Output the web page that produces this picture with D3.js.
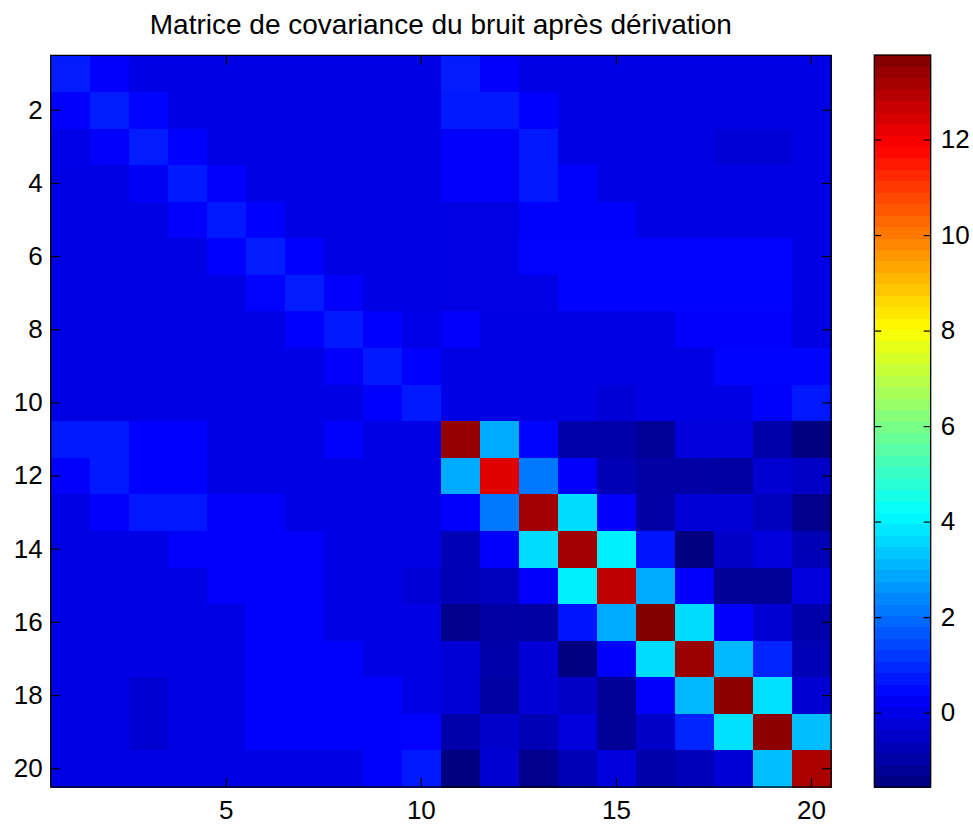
<!DOCTYPE html>
<html>
<head>
<meta charset="utf-8">
<script src="https://cdn.jsdelivr.net/npm/d3@7"></script>
<style>
  html, body { margin: 0; padding: 0; background: #fff; }
  svg text { font-family: "Liberation Sans", Arial, sans-serif; fill: #000; }
</style>
</head>
<body>
<div id="chart"></div>
<script>
// covariance matrix, 20x20 (row i, column j)
const indices = d3.range(1, 21);
const B = -0.04; // background level
const covariance = [
  [0.78, 0.3, B, B, B, B, B, B, B, B, 0.78, 0.3, B, B, B, B, B, B, B, B],
  [0.32, 0.8, 0.4, B, B, B, B, B, B, B, 0.75, 0.75, 0.36, B, B, B, B, B, B, B],
  [-0.02, 0.3, 0.78, 0.34, B, B, B, B, B, B, 0.3, 0.3, 0.7, B, B, B, B, -0.25, -0.25, B],
  [B, B, 0.22, 0.73, 0.3, B, B, B, B, B, 0.3, 0.3, 0.7, 0.33, B, B, B, B, B, B],
  [B, B, B, 0.3, 0.73, 0.34, B, B, B, B, -0.06, -0.06, 0.33, 0.33, 0.33, B, B, B, B, B],
  [B, B, B, B, 0.34, 0.78, 0.34, B, B, B, -0.06, -0.06, 0.38, 0.38, 0.38, 0.38, 0.38, 0.38, 0.38, B],
  [B, B, B, B, B, 0.38, 0.78, 0.3, B, B, -0.06, -0.06, -0.06, 0.4, 0.4, 0.4, 0.4, 0.4, 0.4, B],
  [B, B, B, B, B, B, 0.34, 0.73, 0.34, -0.02, 0.3, B, B, B, B, B, 0.3, 0.3, 0.3, B],
  [B, B, B, B, B, B, B, 0.3, 0.73, 0.34, B, B, B, B, B, B, B, 0.4, 0.4, 0.4],
  [B, B, B, B, B, B, B, B, 0.34, 0.73, B, B, B, B, -0.25, B, B, B, 0.33, 0.7],
  [0.73, 0.73, 0.36, 0.36, B, B, B, 0.33, B, B, 13.43, 2.92, 0.4, -0.92, -0.92, -1.22, -0.17, -0.17, -0.92, -1.55],
  [0.3, 0.73, 0.36, 0.36, B, B, B, B, B, B, 2.92, 12.3, 2.16, 0.3, -0.77, -0.99, -0.99, -1.07, -0.32, -0.47],
  [B, 0.3, 0.7, 0.7, 0.3, 0.3, B, B, B, B, 0.3, 2.16, 13.28, 3.66, 0.3, -0.99, -0.25, -0.25, -0.62, -1.37],
  [B, B, B, 0.3, 0.3, 0.3, 0.3, B, B, B, -0.77, 0.3, 3.66, 13.28, 3.96, 0.67, -1.55, -0.47, -0.17, -0.77],
  [B, B, B, B, 0.3, 0.3, 0.3, B, B, -0.25, -0.77, -0.62, 0.3, 3.96, 12.84, 2.92, 0.3, -1.22, -1.22, -0.17],
  [B, B, B, B, B, 0.33, 0.33, B, B, B, -1.37, -0.99, -1.07, 0.67, 2.92, 13.77, 3.66, 0.3, -0.32, -0.92],
  [B, B, B, B, B, 0.33, 0.33, 0.33, B, B, -0.25, -0.92, -0.25, -1.55, 0.3, 3.66, 13.35, 3.13, 0.9, -0.77],
  [B, B, -0.3, B, B, 0.33, 0.33, 0.33, 0.33, B, -0.25, -1.07, -0.25, -0.47, -1.22, 0.3, 3.13, 13.58, 3.73, -0.32],
  [B, B, -0.3, B, B, 0.33, 0.33, 0.33, 0.33, 0.38, -0.92, -0.4, -0.77, -0.17, -1.22, -0.47, 0.9, 3.73, 13.58, 3.21],
  [B, B, B, B, B, B, B, B, 0.33, 0.73, -1.55, -0.32, -1.37, -0.77, -0.17, -0.92, -0.7, -0.25, 3.21, 13.13]
];

const xTicks = [5, 10, 15, 20];
const yTicks = [2, 4, 6, 8, 10, 12, 14, 16, 18, 20];
const cbarTicks = [0, 2, 4, 6, 8, 10, 12];
const colorLimits = [-1.557, 13.77];
const title = "Matrice de covariance du bruit après dérivation";

// matlab style jet colormap
function jet(t) {
    const c = v => Math.round(255 * Math.max(0, Math.min(1, v)));
    return `rgb(${c(1.5 - Math.abs(4 * t - 3))},${c(1.5 - Math.abs(4 * t - 2))},${c(1.5 - Math.abs(4 * t - 1))})`;
}

const W = 973, H = 824;
const plot = { left: 50.7, top: 55.4, right: 831, bottom: 787 };
const cbar = { left: 874.3, right: 930.7, top: 55, bottom: 787 };

const svg = d3.select("#chart").append("svg")
    .attr("width", W)
    .attr("height", H);

const x = d3.scaleBand().domain(indices).range([plot.left, plot.right]).padding(0);
const y = d3.scaleBand().domain(indices).range([plot.top, plot.bottom]).padding(0);
const color = d3.scaleSequential(jet).domain(colorLimits).clamp(true);

const cellData = [];
covariance.forEach((row, i) => row.forEach((v, j) => cellData.push({ r: indices[i], c: indices[j], v })));

svg.append("g").selectAll("rect")
    .data(cellData)
    .enter().append("rect")
    .attr("x", d => x(d.c))
    .attr("y", d => y(d.r))
    .attr("width", x.bandwidth() + 0.5)
    .attr("height", y.bandwidth() + 0.5)
    .attr("fill", d => color(d.v))
    .attr("shape-rendering", "crispEdges");

// axes, ticks pointing inward like matlab
const fontSize = "26px";
function styleAxis(g) {
    g.select(".domain").remove();
    g.selectAll(".tick line").attr("stroke", "#000").attr("stroke-width", 1.2);
    g.selectAll(".tick text").style("font-size", fontSize).attr("fill", "#000");
}

svg.append("g")
    .attr("transform", `translate(0,${plot.bottom})`)
    .call(d3.axisBottom(x).tickValues(xTicks).tickSize(-9).tickSizeOuter(0).tickPadding(14))
    .call(styleAxis);

svg.append("g")
    .attr("transform", `translate(0,${plot.top})`)
    .call(d3.axisTop(x).tickValues(xTicks).tickSize(-9).tickSizeOuter(0).tickFormat(""))
    .call(styleAxis);

svg.append("g")
    .attr("transform", `translate(${plot.left},0)`)
    .call(d3.axisLeft(y).tickValues(yTicks).tickSize(-9).tickSizeOuter(0).tickPadding(8))
    .call(styleAxis);

svg.append("g")
    .attr("transform", `translate(${plot.right},0)`)
    .call(d3.axisRight(y).tickValues(yTicks).tickSize(-9).tickSizeOuter(0).tickFormat(""))
    .call(styleAxis);

svg.append("rect")
    .attr("x", plot.left)
    .attr("y", plot.top)
    .attr("width", plot.right - plot.left)
    .attr("height", plot.bottom - plot.top)
    .attr("fill", "none")
    .attr("stroke", "#000")
    .attr("stroke-width", 1.3);

// title
svg.append("text")
    .attr("x", (plot.left + plot.right) / 2)
    .attr("y", 34)
    .attr("text-anchor", "middle")
    .style("font-size", "28px")
    .text(title);

// colorbar, 64 bands
const cy = d3.scaleLinear().domain(colorLimits).range([cbar.bottom, cbar.top]);
const nBands = 64;
const bandStep = (colorLimits[1] - colorLimits[0]) / nBands;
const bands = d3.range(nBands).map(k => colorLimits[0] + k * bandStep);

svg.append("g").selectAll("rect")
    .data(bands)
    .enter().append("rect")
    .attr("x", cbar.left)
    .attr("y", d => cy(d + bandStep))
    .attr("width", cbar.right - cbar.left)
    .attr("height", d => cy(d) - cy(d + bandStep) + 0.5)
    .attr("fill", d => color(d + bandStep / 2))
    .attr("shape-rendering", "crispEdges");

svg.append("g")
    .attr("transform", `translate(${cbar.left},0)`)
    .call(d3.axisLeft(cy).tickValues(cbarTicks).tickSize(-7).tickSizeOuter(0).tickFormat(""))
    .call(styleAxis);

svg.append("g")
    .attr("transform", `translate(${cbar.right},0)`)
    .call(d3.axisRight(cy).tickValues(cbarTicks).tickSize(-7).tickSizeOuter(0).tickPadding(10))
    .call(styleAxis);

svg.append("rect")
    .attr("x", cbar.left)
    .attr("y", cbar.top)
    .attr("width", cbar.right - cbar.left)
    .attr("height", cbar.bottom - cbar.top)
    .attr("fill", "none")
    .attr("stroke", "#000")
    .attr("stroke-width", 1.3);
</script>
</body>
</html>
